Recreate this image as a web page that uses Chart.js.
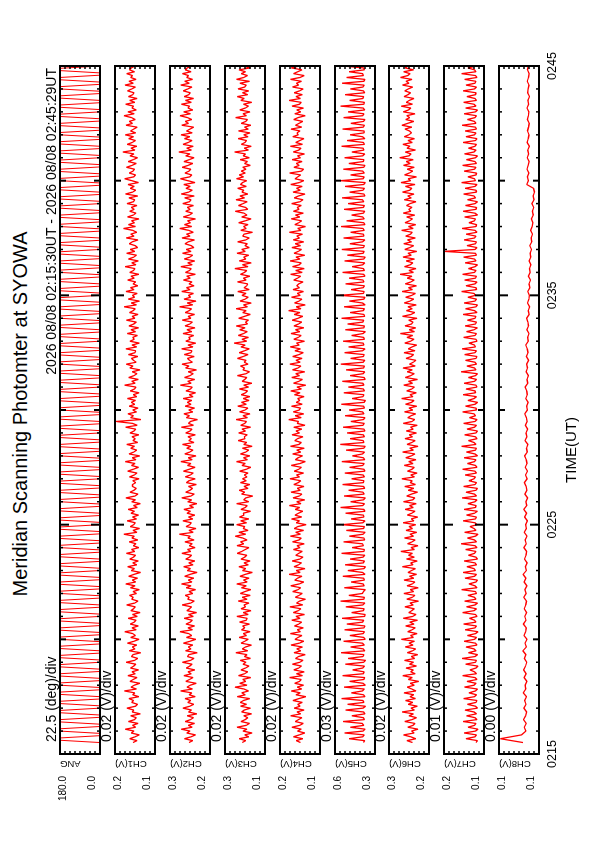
<!DOCTYPE html>
<html>
<head>
<meta charset="utf-8">
<script src="https://cdn.jsdelivr.net/npm/chart.js@4.4.1/dist/chart.umd.min.js"></script>
<style>
  html, body { margin: 0; padding: 0; background: #fff; }
  body { width: 595px; height: 842px; overflow: hidden; position: relative; }
  /* the plot is drawn landscape and turned a quarter turn, like the printed sheet */
  #sheet { position: absolute; left: 0; top: 0; width: 842px; height: 595px;
           transform-origin: 0 0; transform: translate(0, 842px) rotate(-90deg); }
  #sheet canvas { position: absolute; left: 0; }
  #title { position: absolute; top: 9px; left: 0; width: 856px; line-height: 23px; text-align: center;
           font: 20px "Liberation Sans", Arial, sans-serif; color: #000; }
</style>
</head>
<body>
<div id="sheet">
  <div id="title">Meridian Scanning Photomter at SYOWA</div>
</div>
<script>
// ---- data ----
const timeTickMinutes = [0, 10, 20, 30];
const timeTickLabels = ['0215', '0225', '0235', '0245'];
const runLabel = '2026 08/08 02:15:30UT - 2026 08/08 02:45:29UT';

const panelNames = ['ANG', 'CH1(V)', 'CH2(V)', 'CH3(V)', 'CH4(V)', 'CH5(V)', 'CH6(V)', 'CH7(V)', 'CH8(V)'];
const divLabels = ['22.5 (deg)/div', '0.02 (V)/div', '0.02 (V)/div', '0.02 (V)/div', '0.02 (V)/div',
                   '0.03 (V)/div', '0.02 (V)/div', '0.01 (V)/div', '0.00 (V)/div'];
const yMin = [0, 0.08, 0.16, 0.12, 0.08, 0.32, 0.16, 0.13, 0.100];
const yMax = [180, 0.24, 0.32, 0.28, 0.24, 0.56, 0.32, 0.21, 0.132];
const yTopLabels = ['180.0', '0.2', '0.3', '0.3', '0.2', '0.6', '0.3', '0.2', '0.1'];
const yBottomLabels = ['0.0', '0.1', '0.2', '0.1', '0.1', '0.3', '0.2', '0.1', '0.1'];

// first sample 02:15:30 (minutes after 02:15); angle every 6 s, CH1-CH7 every 5 s, CH8 every 10 s
const firstSample = 0.5;
const sampleSteps = [0.1, 1 / 12, 1 / 12, 1 / 12, 1 / 12, 1 / 12, 1 / 12, 1 / 12, 1 / 6];

const angDeg = [
  0,180,180,0,0,180,180,0,0,180,180,0,0,180,180,0,0,180,180,0,
  0,180,180,0,0,180,180,0,0,180,180,0,0,180,180,0,0,180,180,0,
  0,180,180,0,0,180,180,0,0,180,180,0,0,180,180,0,0,180,180,0,
  0,180,180,0,0,180,180,0,0,180,180,0,0,180,180,0,0,180,180,0,
  0,180,180,0,0,180,180,0,0,180,180,0,0,180,180,0,0,180,180,0,
  0,180,180,0,0,180,180,0,0,180,180,0,0,180,180,0,0,180,180,0,
  0,180,180,0,0,180,180,0,0,180,180,0,0,180,180,0,0,180,180,0,
  0,180,180,0,0,180,180,0,0,180,180,0,0,180,180,0,0,180,180,0,
  0,180,180,0,0,180,180,0,0,180,180,0,0,180,180,0,0,180,180,0,
  0,180,180,0,0,180,180,0,0,180,180,0,0,180,180,0,0,180,180,0,
  0,180,180,0,0,180,180,0,0,180,180,0,0,180,180,0,0,180,180,0,
  0,180,180,0,0,180,180,0,0,180,180,0,0,180,180,0,0,180,180,0,
  0,180,180,0,0,180,180,0,0,180,180,0,0,180,180,0,0,180,180,0,
  0,180,180,0,0,180,180,0,0,180,180,0,0,180,180,0,0,180,180,0,
  0,180,180,0,0,180,180,0,0,180,180,0,0,180,180,0,0,180,180,0
];

const ch1 = [
  .168,.152,.181,.160,.143,.175,.164,.199,.157,.170,.148,.186,.162,.155,.177,.139,.171,.165,.192,.158,
  .150,.173,.166,.184,.145,.169,.161,.203,.154,.176,.163,.141,.180,.167,.152,.188,.159,.172,.146,.178,
  .165,.157,.195,.162,.149,.174,.168,.137,.183,.160,.171,.153,.190,.164,.144,.177,.158,.169,.201,.155,
  .172,.147,.179,.163,.156,.187,.151,.170,.140,.176,.166,.159,.193,.161,.148,.173,.167,.182,.154,.168,
  .143,.178,.160,.197,.157,.171,.150,.185,.164,.138,.175,.162,.189,.153,.169,.147,.181,.166,.158,.194,
  .161,.174,.145,.167,.156,.183,.149,.172,.163,.205,.152,.168,.142,.179,.165,.159,.191,.154,.170,.146,
  .176,.162,.187,.151,.166,.139,.173,.158,.196,.160,.148,.180,.164,.155,.170,.170,.157,.169,.144,.182,
  .163,.152,.189,.167,.146,.174,.160,.199,.156,.171,.141,.184,.165,.153,.177,.162,.193,.149,.168,.159,
  .172,.145,.180,.164,.157,.198,.151,.170,.236,.136,.178,.166,.188,.154,.169,.148,.183,.161,.175,.158,
  .190,.153,.167,.144,.179,.162,.156,.202,.159,.173,.147,.185,.164,.152,.171,.140,.181,.168,.195,.155,
  .166,.174,.149,.186,.160,.157,.197,.153,.172,.143,.180,.163,.169,.150,.191,.158,.176,.146,.184,.165,
  .155,.194,.161,.171,.148,.182,.167,.159,.204,.154,.175,.142,.187,.162,.170,.151,.196,.164,.178,.149,
  .168,.157,.189,.163,.176,.145,.181,.166,.160,.200,.156,.173,.147,.186,.165,.154,.193,.161,.179,.150,
  .159,.183,.171,.148,.195,.164,.177,.153,.169,.206,.158,.186,.162,.174,.144,.190,.167,.156,.181,.163,
  .175,.152,.192,.166,.161,.184,.149,.198,.170,.157,.179,.163,.188,.146,.173,.201,.165,.158,.183,.168,
  .162,.194,.172,.155,.187,.167,.150,.180,.164,.209,.160,.176,.153,.191,.171,.158,.185,.166,.199,.157,
  .178,.165,.151,.196,.170,.183,.159,.174,.204,.163,.188,.155,.172,.166,.197,.161,.181,.152,.186,.169,
  .164,.190,.173,.158,.200,.167,.184,.156,.177,.170,.193,.162,.182,.175,.160,.198,.171,.187,.165,.179
];

const ch2 = [
  .244,.229,.262,.236,.218,.253,.240,.275,.231,.247,.222,.259,.238,.226,.251,.213,.246,.234,.268,.241,
  .225,.249,.237,.260,.219,.243,.233,.278,.230,.252,.239,.215,.257,.242,.228,.264,.235,.248,.221,.255,
  .241,.232,.270,.238,.224,.250,.245,.211,.258,.236,.247,.229,.266,.240,.217,.254,.233,.245,.280,.230,
  .248,.222,.256,.239,.231,.263,.227,.246,.214,.252,.242,.234,.271,.237,.223,.249,.243,.259,.229,.244,
  .218,.255,.236,.274,.232,.247,.225,.261,.240,.212,.251,.238,.265,.228,.245,.221,.257,.242,.234,.272,
  .237,.250,.220,.243,.231,.260,.224,.248,.239,.283,.227,.244,.216,.256,.241,.235,.268,.229,.246,.221,
  .252,.238,.264,.226,.242,.213,.249,.233,.273,.236,.223,.257,.240,.230,.246,.215,.254,.244,.219,.259,
  .239,.227,.266,.243,.220,.250,.236,.277,.231,.247,.216,.261,.241,.228,.253,.237,.270,.224,.245,.234,
  .248,.219,.257,.240,.232,.275,.226,.246,.238,.210,.255,.242,.264,.229,.245,.222,.259,.236,.251,.233,
  .267,.228,.243,.218,.256,.238,.231,.279,.235,.249,.221,.262,.240,.227,.247,.214,.258,.244,.272,.230,
  .242,.250,.223,.263,.236,.232,.274,.228,.248,.217,.257,.239,.245,.225,.268,.233,.252,.220,.260,.241,
  .230,.271,.237,.247,.222,.259,.243,.234,.282,.229,.251,.216,.264,.238,.246,.226,.273,.240,.254,.224,
  .244,.232,.266,.239,.253,.219,.258,.242,.235,.277,.231,.249,.221,.263,.241,.229,.270,.236,.255,.225,
  .235,.260,.247,.222,.272,.240,.254,.227,.245,.281,.233,.262,.238,.250,.218,.267,.243,.230,.257,.239,
  .251,.226,.269,.242,.236,.261,.223,.275,.246,.231,.256,.239,.265,.220,.249,.278,.241,.233,.260,.244,
  .237,.271,.248,.229,.264,.243,.224,.257,.240,.285,.234,.253,.227,.268,.247,.232,.262,.241,.276,.231,
  .254,.240,.225,.273,.246,.259,.233,.250,.280,.238,.265,.229,.248,.242,.274,.235,.258,.226,.263,.245,
  .239,.267,.249,.232,.277,.243,.261,.230,.253,.246,.270,.236,.259,.251,.234,.275,.247,.264,.240,.256
];

const ch3 = [
  .211,.197,.223,.185,.201,.172,.208,.192,.232,.195,.182,.216,.199,.189,.205,.174,.213,.203,.178,.218,
  .194,.219,.206,.181,.231,.199,.213,.186,.204,.240,.192,.221,.197,.209,.177,.226,.202,.189,.216,.198,
  .184,.208,.196,.219,.178,.202,.192,.237,.189,.211,.198,.174,.216,.201,.187,.223,.194,.207,.180,.214,
  .201,.209,.182,.222,.195,.191,.233,.187,.207,.176,.216,.198,.204,.184,.227,.192,.211,.179,.219,.200,
  .177,.214,.195,.233,.191,.206,.184,.220,.199,.171,.210,.197,.224,.187,.204,.180,.216,.201,.193,.231,
  .213,.199,.184,.232,.205,.218,.192,.209,.239,.197,.224,.188,.207,.201,.233,.194,.217,.185,.222,.204,
  .207,.178,.216,.199,.191,.234,.185,.205,.197,.169,.214,.201,.223,.188,.204,.181,.218,.195,.210,.192,
  .203,.188,.221,.195,.177,.212,.199,.234,.190,.206,.181,.218,.197,.185,.210,.172,.205,.193,.227,.200,
  .203,.191,.225,.198,.212,.178,.217,.201,.194,.236,.190,.208,.180,.222,.200,.188,.229,.195,.214,.184,
  .207,.181,.215,.198,.190,.222,.186,.205,.173,.211,.201,.193,.230,.196,.182,.208,.202,.218,.188,.203,
  .196,.230,.207,.188,.223,.202,.183,.216,.199,.244,.193,.212,.186,.227,.206,.191,.221,.200,.235,.190,
  .198,.186,.225,.202,.179,.209,.195,.236,.190,.206,.175,.220,.200,.187,.212,.196,.229,.183,.204,.193,
  .189,.230,.196,.206,.181,.218,.202,.193,.241,.188,.210,.175,.223,.197,.205,.185,.232,.199,.213,.183,
  .200,.191,.229,.197,.183,.209,.204,.170,.217,.195,.206,.188,.225,.199,.176,.213,.192,.204,.239,.189,
  .198,.226,.208,.191,.236,.202,.220,.189,.212,.205,.229,.195,.218,.210,.193,.234,.206,.223,.199,.215,
  .196,.209,.179,.202,.190,.219,.183,.207,.198,.242,.186,.203,.175,.215,.200,.194,.227,.188,.205,.180,
  .226,.187,.202,.177,.215,.197,.190,.238,.194,.208,.180,.221,.199,.186,.206,.173,.217,.203,.231,.189,
  .210,.185,.228,.201,.195,.220,.182,.234,.205,.190,.215,.198,.224,.179,.208,.237,.200,.192,.219,.203
];

const ch4 = [
  .158,.175,.149,.186,.163,.141,.170,.155,.192,.161,.147,.179,.166,.152,.198,.157,.172,.144,.183,.160,
  .169,.151,.188,.164,.137,.176,.159,.195,.153,.171,.146,.181,.162,.155,.202,.150,.174,.143,.185,.165,
  .154,.190,.161,.148,.178,.166,.139,.184,.157,.173,.150,.196,.163,.145,.180,.168,.152,.199,.158,.171,
  .147,.182,.165,.153,.193,.160,.176,.142,.187,.167,.156,.201,.149,.174,.162,.138,.179,.164,.151,.189,
  .168,.157,.197,.163,.145,.181,.170,.152,.204,.159,.175,.140,.184,.166,.154,.191,.161,.148,.177,.165,
  .151,.186,.160,.172,.143,.190,.164,.155,.199,.158,.177,.146,.183,.169,.136,.175,.162,.194,.153,.180,
  .166,.149,.179,.161,.203,.156,.173,.141,.188,.163,.152,.196,.159,.171,.144,.185,.167,.157,.200,.162,
  .174,.146,.183,.165,.154,.195,.160,.139,.178,.168,.150,.189,.157,.173,.143,.198,.164,.155,.181,.170,
  .148,.192,.162,.176,.153,.185,.140,.171,.166,.205,.155,.179,.145,.187,.163,.158,.194,.151,.175,.161,
  .169,.144,.182,.160,.197,.154,.172,.137,.186,.165,.150,.193,.162,.177,.141,.190,.168,.156,.201,.159,
  .176,.152,.189,.164,.147,.180,.158,.199,.163,.174,.142,.185,.167,.155,.196,.161,.178,.145,.184,.166,
  .153,.191,.168,.149,.183,.160,.206,.156,.175,.139,.182,.164,.152,.194,.159,.171,.146,.188,.162,.173,
  .165,.148,.185,.170,.157,.198,.151,.177,.143,.190,.163,.155,.200,.160,.176,.141,.184,.167,.154,.192,
  .158,.179,.145,.187,.162,.173,.150,.203,.156,.169,.138,.181,.165,.153,.195,.161,.178,.147,.186,.164,
  .171,.155,.193,.160,.148,.183,.166,.140,.188,.159,.174,.151,.197,.163,.145,.180,.169,.157,.202,.154,
  .146,.184,.163,.175,.152,.191,.158,.170,.142,.187,.165,.156,.199,.150,.177,.161,.144,.189,.167,.172,
  .160,.196,.153,.178,.164,.149,.185,.168,.139,.181,.157,.173,.146,.192,.162,.155,.204,.158,.176,.151,
  .183,.162,.147,.190,.166,.174,.154,.198,.160,.143,.186,.169,.152,.195,.163,.171,.149,.182,.165,.157
];

const ch5 = [
  .389,.382,.476,.394,.385,.503,.391,.379,.468,.387,.396,.512,.383,.390,.459,.381,.388,.497,.392,.377,
  .485,.386,.393,.520,.380,.389,.462,.395,.384,.506,.378,.391,.473,.387,.382,.515,.390,.385,.455,.393,
  .383,.498,.388,.376,.481,.392,.386,.524,.381,.390,.466,.384,.395,.509,.379,.387,.471,.391,.383,.502,
  .386,.380,.489,.394,.388,.517,.382,.379,.460,.390,.385,.495,.393,.381,.527,.387,.384,.477,.396,.389,
  .378,.504,.385,.391,.464,.383,.388,.513,.380,.394,.483,.386,.377,.499,.390,.384,.470,.392,.381,.521,
  .387,.383,.457,.389,.395,.508,.382,.386,.474,.391,.379,.492,.388,.384,.518,.393,.380,.463,.386,.390,
  .496,.381,.387,.526,.394,.383,.467,.389,.378,.505,.385,.392,.479,.382,.388,.514,.390,.386,.461,.384,
  .391,.501,.380,.387,.472,.393,.385,.519,.382,.389,.456,.395,.383,.494,.388,.379,.528,.386,.391,.469,
  .384,.390,.487,.381,.386,.511,.392,.384,.465,.389,.380,.500,.387,.394,.475,.383,.388,.522,.385,.378,
  .458,.392,.386,.507,.383,.390,.480,.387,.393,.516,.379,.385,.470,.391,.382,.493,.388,.384,.525,.390,
  .381,.466,.389,.385,.503,.394,.380,.478,.386,.391,.512,.383,.388,.460,.392,.378,.498,.387,.384,.484,
  .393,.388,.520,.382,.386,.469,.390,.384,.506,.379,.395,.474,.387,.381,.529,.389,.385,.463,.391,.383,
  .497,.386,.392,.476,.380,.388,.515,.384,.390,.457,.393,.382,.502,.387,.379,.486,.391,.385,.519,.389,
  .383,.471,.394,.381,.509,.386,.390,.467,.384,.392,.523,.380,.388,.490,.385,.393,.461,.389,.382,.505,
  .390,.384,.482,.387,.395,.517,.381,.386,.473,.392,.383,.500,.388,.378,.526,.391,.385,.466,.384,.393,
  .510,.388,.380,.477,.390,.386,.503,.393,.382,.459,.387,.391,.521,.384,.389,.488,.381,.395,.470,.386,
  .385,.514,.391,.383,.465,.389,.380,.508,.394,.386,.481,.382,.390,.526,.387,.384,.472,.393,.388,.499,
  .382,.389,.468,.392,.385,.518,.387,.381,.491,.390,.394,.475,.383,.388,.511,.386,.392,.463,.384,.502
];

const ch6 = [
  .226,.248,.213,.233,.262,.219,.230,.204,.245,.224,.216,.257,.228,.210,.240,.222,.268,.218,.232,.207,
  .243,.225,.254,.214,.236,.221,.260,.212,.229,.247,.219,.235,.201,.243,.227,.265,.215,.233,.223,.252,
  .210,.238,.222,.258,.217,.231,.205,.247,.226,.213,.255,.224,.240,.218,.271,.222,.234,.208,.245,.228,
  .215,.253,.220,.237,.206,.263,.225,.212,.241,.229,.219,.256,.223,.236,.202,.249,.227,.216,.261,.221,
  .235,.203,.248,.227,.216,.260,.221,.238,.210,.244,.230,.214,.267,.224,.233,.207,.250,.219,.242,.226,
  .273,.218,.232,.204,.246,.228,.215,.258,.222,.236,.209,.252,.226,.240,.213,.264,.220,.231,.205,.247,
  .229,.216,.255,.223,.238,.211,.262,.225,.217,.249,.230,.206,.243,.221,.257,.214,.235,.227,.269,.218,
  .233,.208,.246,.228,.219,.259,.224,.241,.212,.253,.231,.216,.266,.222,.237,.204,.248,.229,.215,.256,
  .226,.239,.210,.251,.223,.234,.207,.263,.228,.217,.245,.232,.213,.258,.225,.240,.209,.254,.230,.220,
  .270,.224,.236,.211,.249,.229,.218,.261,.226,.242,.206,.255,.233,.219,.247,.227,.264,.215,.238,.223,
  .212,.252,.231,.222,.260,.216,.243,.228,.209,.257,.234,.220,.248,.225,.275,.218,.239,.213,.256,.230,
  .224,.241,.208,.266,.232,.217,.250,.227,.244,.211,.259,.236,.221,.253,.229,.214,.268,.226,.242,.210,
  .255,.233,.219,.247,.228,.276,.222,.240,.212,.258,.235,.225,.251,.218,.264,.231,.244,.209,.257,.237,
  .221,.261,.230,.246,.215,.253,.234,.227,.270,.223,.242,.213,.256,.238,.226,.249,.217,.263,.233,.241,
  .228,.250,.236,.212,.259,.231,.245,.220,.266,.237,.229,.254,.216,.272,.234,.243,.210,.258,.239,.225,
  .247,.219,.262,.235,.251,.223,.277,.240,.232,.255,.214,.248,.236,.264,.227,.244,.218,.259,.241,.230,
  .238,.256,.229,.268,.245,.221,.253,.237,.249,.216,.263,.242,.233,.271,.226,.251,.239,.220,.260,.244,
  .234,.257,.243,.225,.266,.240,.252,.228,.274,.245,.236,.261,.222,.255,.247,.231,.269,.242,.250,.238
];

const ch7 = [
  .146,.143,.166,.148,.145,.170,.147,.142,.162,.149,.146,.172,.144,.148,.165,.145,.150,.168,.143,.147,
  .163,.146,.144,.171,.149,.145,.160,.147,.143,.169,.150,.146,.164,.144,.148,.173,.145,.149,.158,.146,
  .142,.167,.147,.145,.174,.148,.143,.161,.146,.150,.166,.144,.147,.170,.149,.145,.163,.147,.142,.168,
  .148,.145,.171,.146,.149,.159,.144,.147,.173,.150,.145,.165,.148,.143,.169,.146,.149,.162,.145,.147,
  .175,.144,.148,.160,.146,.143,.168,.149,.145,.172,.147,.150,.164,.145,.148,.170,.143,.146,.161,.149,
  .146,.167,.144,.148,.176,.145,.149,.163,.147,.142,.169,.146,.150,.158,.144,.148,.172,.147,.145,.165,
  .149,.143,.170,.147,.146,.162,.148,.144,.174,.145,.149,.166,.146,.143,.171,.148,.145,.160,.150,.147,
  .168,.145,.148,.173,.144,.147,.163,.149,.146,.170,.143,.148,.165,.147,.145,.175,.146,.150,.161,.144,
  .147,.169,.146,.143,.164,.149,.145,.171,.148,.144,.159,.147,.150,.173,.145,.146,.167,.148,.143,.162,
  .150,.145,.172,.147,.148,.166,.144,.146,.170,.149,.145,.161,.147,.143,.176,.146,.149,.164,.145,.148,
  .167,.146,.144,.169,.148,.145,.174,.147,.149,.160,.144,.146,.171,.148,.145,.165,.150,.143,.168,.147,
  .145,.163,.148,.146,.172,.144,.149,.167,.146,.143,.170,.148,.145,.162,.147,.150,.175,.145,.146,.166,
  .148,.144,.169,.147,.145,.173,.149,.146,.161,.148,.143,.168,.146,.149,.171,.145,.147,.210,.148,.144,
  .164,.147,.145,.170,.149,.146,.166,.144,.148,.174,.146,.145,.160,.149,.147,.169,.143,.148,.172,.146,
  .145,.167,.148,.143,.163,.147,.150,.171,.145,.146,.168,.148,.144,.175,.147,.149,.162,.146,.145,.170,
  .149,.146,.173,.145,.148,.165,.147,.143,.169,.150,.146,.161,.148,.145,.172,.147,.144,.166,.149,.146,
  .168,.145,.147,.174,.146,.149,.163,.148,.145,.170,.147,.143,.167,.146,.150,.171,.145,.148,.164,.147,
  .146,.172,.149,.145,.166,.148,.146,.169,.144,.147,.175,.146,.149,.162,.145,.148,.170,.147,.145,.167
];

const ch8 = [
  .1128,.1310,.1140,.1105,.1118,.1102,.1124,.1107,.1099,.1121,.1104,.1115,.1100,.1126,.1106,.1111,.1097,.1119,
  .1103,.1123,.1108,.1098,.1117,.1105,.1129,.1101,.1112,.1096,.1120,.1107,.1102,.1125,.1104,.1114,.1099,.1118,
  .1106,.1100,.1122,.1103,.1113,.1097,.1119,.1105,.1127,.1101,.1109,.1095,.1116,.1104,.1099,.1121,.1102,.1111,
  .1096,.1118,.1101,.1107,.1093,.1115,.1099,.1122,.1098,.1105,.1091,.1113,.1097,.1103,.1117,.1095,.1108,.1092,
  .1110,.1096,.1102,.1115,.1094,.1100,.1089,.1112,.1097,.1104,.1091,.1109,.1095,.1101,.1114,.1093,.1099,.1087,
  .1106,.1094,.1098,.1111,.1090,.1096,.1085,.1103,.1092,.1099,.1083,.1101,.1088,.1094,.1106,.1086,.1091,.1080,
  .1097,.1084,.1089,.1099,.1079,.1086,.1075,.1092,.1081,.1077,.1090,.1073,.1080,.1068,.1085,.1071,.1076,.1065,
  .1079,.1066,.1071,.1060,.1074,.1058,.1063,.1052,.1067,.1055,.1049,.1061,.1046,.1053,.1042,.1057,.1040,.1047,
  .1036,.1044,.1098,.1085,.1093,.1081,.1096,.1087,.1079,.1094,.1083,.1090,.1077,.1095,.1086,.1080,.1092,.1084,
  .1078,.1093,.1085,.1081,.1096,.1083,.1089,.1076,.1091,.1087,.1080,.1094,.1084,.1079,.1092,.1086,.1082,.1090
];

const series = [angDeg, ch1, ch2, ch3, ch4, ch5, ch6, ch7, ch8];

// ---- layout (landscape sheet) ----
const SHEET_W = 842;
const PLOT_LEFT = 88, PLOT_RIGHT = 776;
const PANEL_TOP = 60, PANEL_STEP = 54.9, PANEL_H = 40;
const HEAD = 16;
const FONT = '"Liberation Sans", Arial, sans-serif';
Chart.defaults.font.family = FONT;

const panelDecor = {
  id: 'panelDecor',
  afterDatasetsDraw(chart, args, opts) {
    const { ctx, chartArea: a, scales: { x, y } } = chart;
    const seg = (x1, y1, x2, y2) => { ctx.beginPath(); ctx.moveTo(x1, y1); ctx.lineTo(x2, y2); ctx.stroke(); };
    ctx.save();
    ctx.strokeStyle = '#000';
    ctx.fillStyle = '#000';

    // minute ticks on both long edges, longer every 5 and 10 minutes
    for (let m = 1; m < 30; m++) {
      const px = x.getPixelForValue(m);
      const len = m % 10 === 0 ? 9 : (m % 5 === 0 ? 6 : 3);
      ctx.lineWidth = m % 5 === 0 ? 2 : 1.5;
      seg(px, a.top, px, a.top + len);
      seg(px, a.bottom, px, a.bottom - len);
    }
    // eight divisions on the value axis
    ctx.lineWidth = 1.5;
    for (let k = 1; k < 8; k++) {
      const py = y.getPixelForValue(y.min + (y.max - y.min) * k / 8);
      seg(a.left, py, a.left + 3, py);
      seg(a.right, py, a.right - 3, py);
    }
    ctx.lineWidth = 2;
    ctx.strokeRect(a.left, a.top, a.right - a.left, a.bottom - a.top);

    // scale note above the panel
    ctx.font = '14px ' + FONT;
    ctx.textBaseline = 'alphabetic';
    ctx.textAlign = 'left';
    ctx.fillText(opts.divLabel, a.left + 12, a.top - 4);
    if (opts.runLabel) {
      ctx.textAlign = 'right';
      ctx.fillText(opts.runLabel, a.right - 2, a.top - 4);
    }

    // value range and channel name on the left
    ctx.font = '10px ' + FONT;
    ctx.textAlign = 'right';
    ctx.textBaseline = 'middle';
    ctx.fillText(opts.topLabel, a.left - 22, y.getPixelForValue(y.max) + 3);
    ctx.fillText(opts.bottomLabel, a.left - 22, y.getPixelForValue(y.min) - 8);
    ctx.save();
    ctx.font = '9.5px ' + FONT;
    ctx.translate(a.left - 10, a.top);
    ctx.rotate(-Math.PI / 2);
    ctx.textAlign = 'right';
    ctx.fillText(opts.name, 0, 0);
    ctx.restore();

    // time axis under the last panel
    if (opts.timeAxis) {
      ctx.font = '12.5px ' + FONT;
      ctx.textAlign = 'center';
      timeTickMinutes.forEach((m, i) => {
        ctx.fillText(timeTickLabels[i], x.getPixelForValue(m), a.bottom + 14);
      });
      ctx.font = '15px ' + FONT;
      ctx.fillText('TIME(UT)', (a.left + a.right) / 2 - 40, a.bottom + 33);
    }
    ctx.restore();
  }
};

const sheet = document.getElementById('sheet');

series.forEach((values, i) => {
  const last = i === series.length - 1;
  const bottomPad = last ? 50 : 2;
  const canvas = document.createElement('canvas');
  canvas.width = SHEET_W;
  canvas.height = HEAD + PANEL_H + bottomPad;
  canvas.style.top = (Math.round(PANEL_TOP + i * PANEL_STEP) - HEAD) + 'px';
  sheet.appendChild(canvas);

  new Chart(canvas, {
    type: 'line',
    data: {
      datasets: [{
        data: values.map((v, k) => ({ x: firstSample + k * sampleSteps[i], y: v })),
        borderColor: '#ff0000',
        borderWidth: i === 0 ? 1 : 1.3,
        borderJoinStyle: 'bevel',
        pointRadius: 0,
        tension: 0
      }]
    },
    options: {
      responsive: false,
      animation: false,
      events: [],
      layout: { padding: { left: PLOT_LEFT, right: SHEET_W - PLOT_RIGHT, top: HEAD, bottom: bottomPad } },
      plugins: {
        legend: { display: false },
        tooltip: { enabled: false },
        panelDecor: {
          name: panelNames[i],
          divLabel: divLabels[i],
          topLabel: yTopLabels[i],
          bottomLabel: yBottomLabels[i],
          runLabel: i === 0 ? runLabel : null,
          timeAxis: last
        }
      },
      scales: {
        x: { type: 'linear', min: 0, max: 30, display: false },
        y: { min: yMin[i], max: yMax[i], display: false }
      }
    },
    plugins: [panelDecor]
  });
});
</script>
</body>
</html>
